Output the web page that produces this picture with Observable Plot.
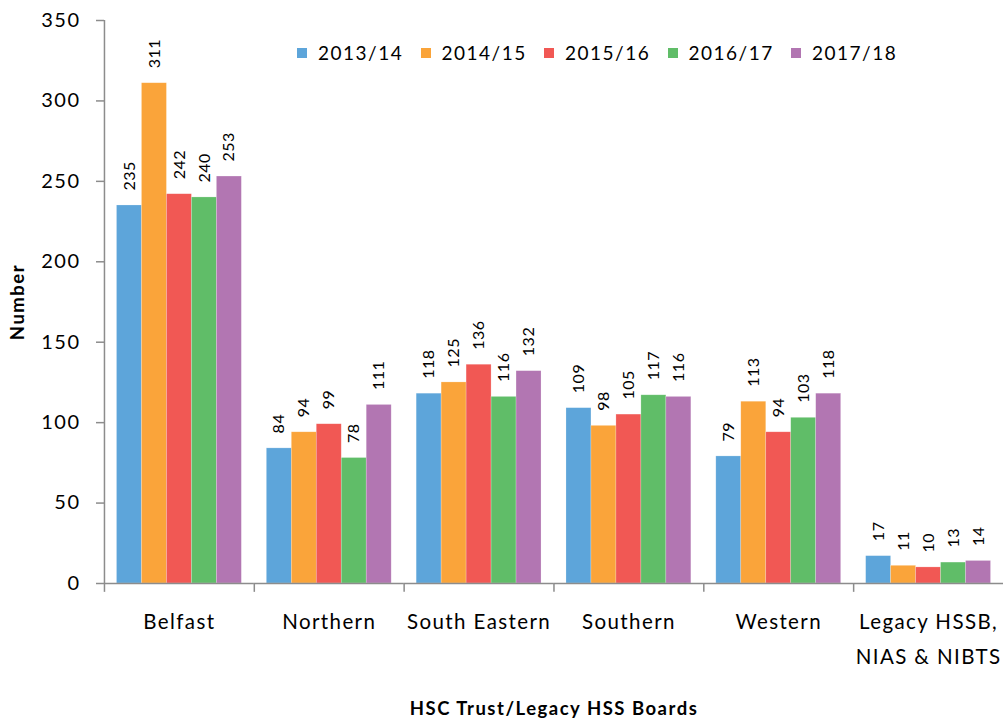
<!DOCTYPE html>
<html>
<head>
<meta charset="utf-8">
<script src="https://cdn.jsdelivr.net/npm/d3@7"></script>
<script src="https://cdn.jsdelivr.net/npm/@observablehq/plot@0.6"></script>
<style>
  html, body { margin: 0; padding: 0; background: #fff; }
  #wrap { position: relative; width: 1003px; height: 720px; font-family: Lato, "Open Sans", sans-serif; }
  #legend { position: absolute; left: 297px; top: 41px; display: flex; font-size: 19px; letter-spacing: 1.5px; color: #000; }
  #legend .item { display: flex; align-items: center; width: 123.5px; }
  #legend .sw { width: 10px; height: 10px; margin-right: 11px; }
</style>
</head>
<body>
<div id="wrap"><div id="legend"></div></div>
<script>
const categories = ["Belfast", "Northern", "South Eastern", "Southern", "Western", "Legacy HSSB,\nNIAS & NIBTS"];
const years = ["2013/14", "2014/15", "2015/16", "2016/17", "2017/18"];
const colors = ["#5DA5DA", "#FAA43A", "#F15854", "#60BD68", "#B276B2"];
const v2013 = [235, 84, 118, 109, 79, 17];
const v2014 = [311, 94, 125, 98, 113, 11];
const v2015 = [242, 99, 136, 105, 94, 10];
const v2016 = [240, 78, 116, 117, 103, 13];
const v2017 = [253, 111, 132, 116, 118, 14];
const yTicks = [0, 50, 100, 150, 200, 250, 300, 350];

const series = [v2013, v2014, v2015, v2016, v2017];
const data = [];
categories.forEach((c, i) => years.forEach((y, j) => data.push({cat: c, year: y, value: series[j][i]})));
const catRows = categories.map(c => ({cat: c}));
const axisGrey = "#8c8c8c";

const chart = Plot.plot({
  width: 1003, height: 720,
  marginLeft: 104, marginRight: 0, marginTop: 20, marginBottom: 137,
  style: {fontFamily: "Lato, 'Open Sans', sans-serif", fontSize: "20px", letterSpacing: "1.5px", color: "#000", background: "#fff"},
  fx: {domain: categories, padding: 0, round: false},
  x: {domain: years, paddingInner: 0, paddingOuter: 0.5, round: false, axis: null},
  y: {domain: [0, 350]},
  color: {domain: years, range: colors},
  marks: [
    Plot.barY(data, {fx: "cat", x: "year", y: "value", fill: "year", stroke: "#fff", strokeOpacity: 0.35, strokeWidth: 0.6}),
    Plot.text(data, {fx: "cat", x: "year", y: "value", text: d => String(d.value), rotate: -90, textAnchor: "start", dy: -15, fontSize: 16, fill: "#000"}),
    Plot.ruleY([0], {stroke: axisGrey, strokeWidth: 1.5}),
    Plot.ruleX(catRows, {fx: "cat", x: () => years[0], dx: -25, y1: 0, y2: -5.5, stroke: axisGrey, strokeWidth: 1.5}),
    Plot.ruleX([{cat: categories[0]}], {fx: "cat", x: () => years[0], dx: -25, y1: 0, y2: 350, stroke: axisGrey, strokeWidth: 1.5}),
    Plot.axisY({ticks: yTicks, tickSize: 8, tickPadding: 16, stroke: axisGrey, strokeWidth: 1.5, label: "Number", labelAnchor: "center", labelArrow: "none", labelOffset: 94}),
    Plot.axisFx({anchor: "bottom", tickSize: 0, tickPadding: 21, lineHeight: 1.7, fontSize: 20.5, label: "HSC Trust/Legacy HSS Boards", labelAnchor: "center", labelArrow: "none", labelOffset: 131})
  ]
});

d3.select(chart).selectAll('g[aria-label$="axis label"]').attr("font-weight", "bold").attr("font-size", 18.5).attr("letter-spacing", "1.5px");
d3.select(chart).selectAll('g[aria-label="fx-axis tick label"]').attr("letter-spacing", "1.4px");
d3.select(chart).selectAll('g[aria-label="text"]').attr("letter-spacing", "0.5px");
document.getElementById("wrap").prepend(chart);

const legend = document.getElementById("legend");
years.forEach((y, j) => {
  const item = document.createElement("div");
  item.className = "item";
  const sw = document.createElement("span");
  sw.className = "sw";
  sw.style.background = colors[j];
  const t = document.createElement("span");
  t.textContent = y;
  item.append(sw, t);
  legend.append(item);
});
</script>
</body>
</html>
